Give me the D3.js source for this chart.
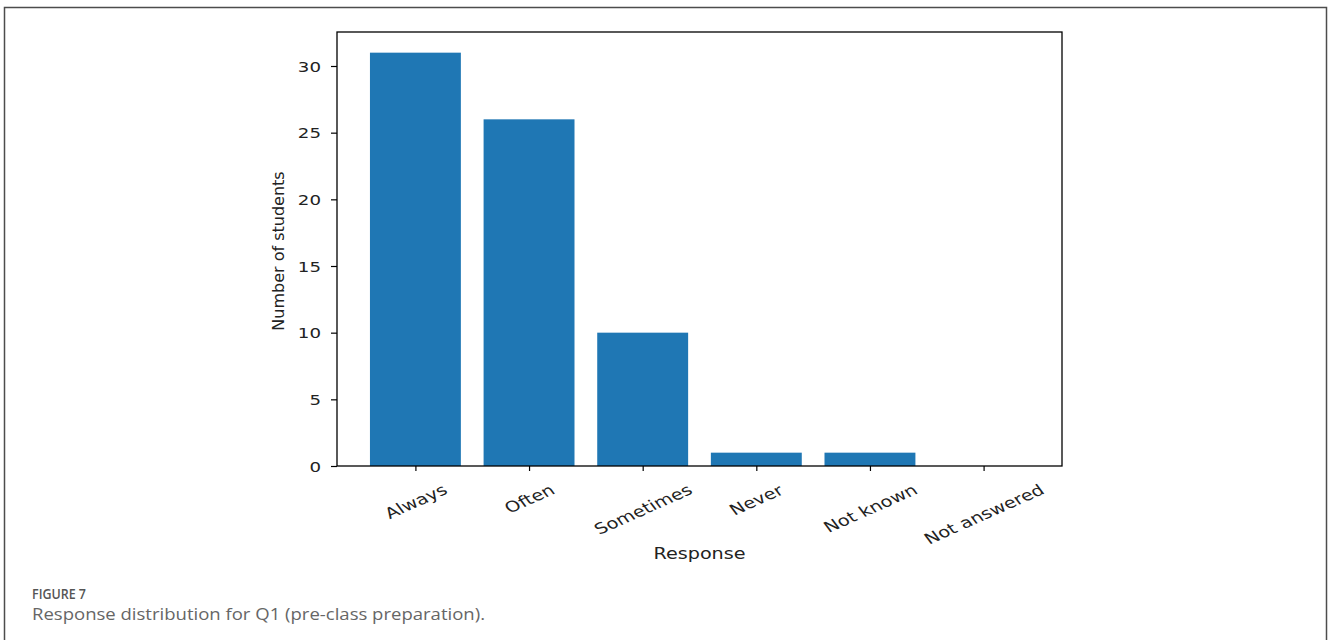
<!DOCTYPE html>
<html>
<head>
<meta charset="utf-8">
<style>
body { margin: 0; background: #fff; }
svg { display: block; }
</style>
</head>
<body>
<svg id="chart" width="1328" height="640"></svg>
<script src="https://cdn.jsdelivr.net/npm/d3@7"></script>
<script>
var categories = ["Always", "Often", "Sometimes", "Never", "Not known", "Not answered"];
var counts = [31, 26, 10, 1, 1, 0];
var yTicks = [0, 5, 10, 15, 20, 25, 30];

var svg = d3.select("#chart");
var font = "'DejaVu Sans', sans-serif";
var sx = 1.3; // the picture is stretched sideways

// figure box
svg.append("rect")
    .attr("x", 4.5).attr("y", 7.5)
    .attr("width", 1322).attr("height", 660)
    .attr("fill", "none")
    .attr("stroke", "#4d4d4d")
    .attr("stroke-width", 1.5);

var plotLeft = 337, plotRight = 1062, plotTop = 32, plotBottom = 466;

var x = d3.scaleLinear().domain([-0.69, 5.69]).range([plotLeft, plotRight]);
var y = d3.scaleLinear().domain([0, 32.55]).range([plotBottom, plotTop]);

// bars
svg.append("g").selectAll("rect")
    .data(counts)
    .enter()
    .append("rect")
    .attr("x", function(d, i) { return x(i - 0.4); })
    .attr("width", function(d, i) { return x(i + 0.4) - x(i - 0.4); })
    .attr("y", function(d) { return y(d); })
    .attr("height", function(d) { return y(0) - y(d); })
    .attr("fill", "#1f77b4");

// frame
svg.append("rect")
    .attr("x", plotLeft).attr("y", plotTop)
    .attr("width", plotRight - plotLeft).attr("height", plotBottom - plotTop)
    .attr("fill", "none")
    .attr("stroke", "#000")
    .attr("stroke-width", 1.3);

// y axis
var yAxis = svg.append("g")
    .attr("transform", "translate(" + plotLeft + ",0)")
    .call(d3.axisLeft(y).tickValues(yTicks).tickSize(6));
yAxis.select(".domain").remove();
yAxis.selectAll("line").attr("stroke", "#000").attr("stroke-width", 1.2);
yAxis.selectAll("text")
    .attr("x", 0)
    .attr("dy", "0.36em")
    .attr("fill", "#222")
    .style("font-family", font)
    .style("font-size", "14px")
    .attr("transform", "translate(-16,0) scale(" + sx + ",1)");

// x axis
var xAxis = svg.append("g")
    .attr("transform", "translate(0," + plotBottom + ")")
    .call(d3.axisBottom(x).tickValues(d3.range(categories.length))
        .tickFormat(function(i) { return categories[i]; })
        .tickSize(5));
xAxis.select(".domain").remove();
xAxis.selectAll("line").attr("stroke", "#000").attr("stroke-width", 1.2);
xAxis.selectAll(".tick").each(function() {
    var tick = d3.select(this);
    var t = tick.select("text");
    var lab = tick.append("g");
    lab.node().appendChild(t.node());
    t.attr("y", 0)
        .attr("dy", "0.35em")
        .attr("text-anchor", "middle")
        .attr("fill", "#222")
        .style("font-family", font)
        .style("font-size", "15px")
        .attr("transform", "scale(" + sx + ",1) rotate(-30)");
    var bb = lab.node().getBBox();
    lab.attr("transform", "translate(" + (-(bb.x + bb.width / 2)) + "," + (15 - bb.y) + ")");
});

// axis titles
svg.append("text")
    .attr("transform", "translate(278," + ((plotTop + plotBottom) / 2 + 2) + ") rotate(-90)")
    .attr("text-anchor", "middle")
    .attr("dy", "0.35em")
    .attr("fill", "#222")
    .style("font-family", font)
    .style("font-size", "16px")
    .text("Number of students");

svg.append("text")
    .attr("transform", "translate(" + ((plotLeft + plotRight) / 2) + ",559) scale(1.28,1)")
    .attr("text-anchor", "middle")
    .attr("fill", "#222")
    .style("font-family", font)
    .style("font-size", "15px")
    .text("Response");

// caption
svg.append("text")
    .attr("x", 32).attr("y", 599)
    .attr("fill", "#555")
    .attr("textLength", 54)
    .attr("lengthAdjust", "spacingAndGlyphs")
    .style("font-family", "'Open Sans', sans-serif")
    .style("font-size", "14px")
    .style("font-weight", 600)
    .text("FIGURE 7");

svg.append("text")
    .attr("x", 32).attr("y", 620)
    .attr("fill", "#666")
    .attr("textLength", 453)
    .attr("lengthAdjust", "spacingAndGlyphs")
    .style("font-family", "'Open Sans', sans-serif")
    .style("font-size", "17px")
    .text("Response distribution for Q1 (pre-class preparation).");
</script>
</body>
</html>
